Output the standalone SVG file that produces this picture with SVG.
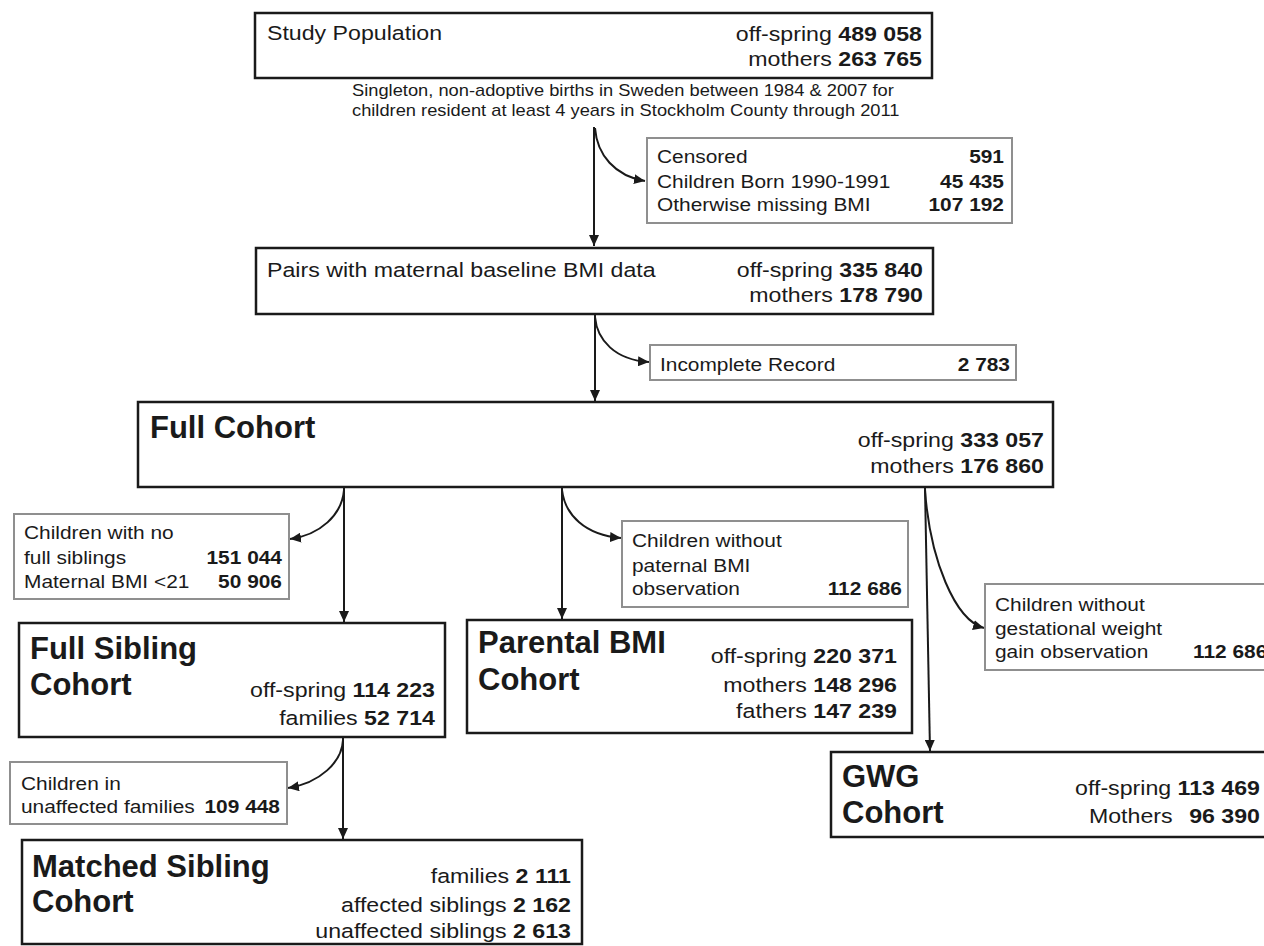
<svg xmlns="http://www.w3.org/2000/svg" width="1264" height="946" viewBox="0 0 1264 946">
<style>
text{font-family:"Liberation Sans",Arial,Helvetica,sans-serif;fill:#1a1a1a}
.box{fill:#fff;stroke:#1a1a1a;stroke-width:2.5}
.ex{fill:#fff;stroke:#8f8f8f;stroke-width:2}
.r{font-size:20.5px}
.x{font-size:18.5px}
.sub{font-size:16.2px}
.h{font-size:31px;font-weight:bold}
.b{font-weight:bold}
.s{transform-box:fill-box;transform-origin:0 0;transform:scaleX(1.13)}
.e{text-anchor:end;transform-box:fill-box;transform-origin:100% 0;transform:scaleX(1.13)}
.c{fill:none;stroke:#1a1a1a;stroke-width:2}
</style>
<defs>
<marker id="ah" markerUnits="userSpaceOnUse" markerWidth="12" markerHeight="10" refX="11" refY="5" orient="auto">
<path d="M0,0 L11,5 L0,10 z" fill="#1a1a1a"/>
</marker>
</defs>
<rect width="1264" height="946" fill="#fff"/>

<g id="connectors">
<path class="c" d="M594,127 L594,246" marker-end="url(#ah)"/>
<path class="c" d="M595,128 C597,155 615,176 645,181" marker-end="url(#ah)"/>
<path class="c" d="M595,315 L595,401" marker-end="url(#ah)"/>
<path class="c" d="M595,317 C597,340 615,360 649,362" marker-end="url(#ah)"/>
<path class="c" d="M344,488 L344,622" marker-end="url(#ah)"/>
<path class="c" d="M344,490 C342,515 320,535 290,539" marker-end="url(#ah)"/>
<path class="c" d="M562,488 L562,619" marker-end="url(#ah)"/>
<path class="c" d="M562,490 C565,515 585,535 621,538" marker-end="url(#ah)"/>
<path class="c" d="M925,488 L930,751" marker-end="url(#ah)"/>
<path class="c" d="M925,490 C930,560 955,620 984,628" marker-end="url(#ah)"/>
<path class="c" d="M343,738 L343,839" marker-end="url(#ah)"/>
<path class="c" d="M343,740 C342,762 320,783 288,788" marker-end="url(#ah)"/>
</g>

<g id="study-population">
<rect class="box" x="255" y="13" width="677" height="65"/>
<text class="r s" x="267" y="40">Study Population</text>
<text class="r e" x="922" y="41">off-spring <tspan class="b">489 058</tspan></text>
<text class="r e" x="922" y="66">mothers <tspan class="b">263 765</tspan></text>
<text class="sub s" x="352" y="96">Singleton, non-adoptive births in Sweden between 1984 &amp; 2007 for</text>
<text class="sub s" x="352" y="116">children resident at least 4 years in Stockholm County through 2011</text>
</g>

<g id="excl-1">
<rect class="ex" x="647" y="138" width="365" height="85"/>
<text class="x s" x="657" y="163">Censored</text>
<text class="x s" x="657" y="188">Children Born 1990-1991</text>
<text class="x s" x="657" y="211">Otherwise missing BMI</text>
<text class="x e b" x="1004" y="163">591</text>
<text class="x e b" x="1004" y="188">45 435</text>
<text class="x e b" x="1004" y="211">107 192</text>
</g>

<g id="pairs">
<rect class="box" x="256" y="248" width="677" height="66"/>
<text class="r s" x="267" y="277">Pairs with maternal baseline BMI data</text>
<text class="r e" x="923" y="277">off-spring <tspan class="b">335 840</tspan></text>
<text class="r e" x="923" y="302">mothers <tspan class="b">178 790</tspan></text>
</g>

<g id="excl-2">
<rect class="ex" x="650" y="345" width="366" height="35"/>
<text class="x s" x="660" y="371">Incomplete Record</text>
<text class="x e b" x="1010" y="371">2 783</text>
</g>

<g id="full-cohort">
<rect class="box" x="138" y="402" width="915" height="85"/>
<text class="h" x="150" y="438">Full Cohort</text>
<text class="r e" x="1044" y="447">off-spring <tspan class="b">333 057</tspan></text>
<text class="r e" x="1044" y="473">mothers <tspan class="b">176 860</tspan></text>
</g>

<g id="excl-3">
<rect class="ex" x="14" y="514" width="275" height="85"/>
<text class="x s" x="24" y="539">Children with no</text>
<text class="x s" x="24" y="564">full siblings</text>
<text class="x s" x="24" y="588">Maternal BMI &lt;21</text>
<text class="x e b" x="282" y="564">151 044</text>
<text class="x e b" x="282" y="588">50 906</text>
</g>

<g id="excl-4">
<rect class="ex" x="622" y="521" width="286" height="86"/>
<text class="x s" x="632" y="547">Children without</text>
<text class="x s" x="632" y="572">paternal BMI</text>
<text class="x s" x="632" y="595">observation</text>
<text class="x e b" x="902" y="595">112 686</text>
</g>

<g id="excl-5">
<rect class="ex" x="985" y="584" width="300" height="86"/>
<text class="x s" x="995" y="611">Children without</text>
<text class="x s" x="995" y="635">gestational weight</text>
<text class="x s" x="995" y="658">gain observation</text>
<text class="x s b" x="1193" y="658">112 686</text>
</g>

<g id="full-sibling">
<rect class="box" x="19" y="623" width="426" height="114"/>
<text class="h" x="30" y="659">Full Sibling</text>
<text class="h" x="30" y="695">Cohort</text>
<text class="r e" x="435" y="697">off-spring <tspan class="b">114 223</tspan></text>
<text class="r e" x="435" y="725">families <tspan class="b">52 714</tspan></text>
</g>

<g id="parental-bmi">
<rect class="box" x="467" y="620" width="445" height="113"/>
<text class="h" x="478" y="653">Parental BMI</text>
<text class="h" x="478" y="690">Cohort</text>
<text class="r e" x="897" y="663">off-spring <tspan class="b">220 371</tspan></text>
<text class="r e" x="897" y="692">mothers <tspan class="b">148 296</tspan></text>
<text class="r e" x="897" y="718">fathers <tspan class="b">147 239</tspan></text>
</g>

<g id="gwg">
<rect class="box" x="831" y="752" width="460" height="85"/>
<text class="h" x="842" y="787">GWG</text>
<text class="h" x="842" y="823">Cohort</text>
<text class="r e" x="1260" y="795">off-spring <tspan class="b">113 469</tspan></text>
<text class="r e" x="1260" y="823">Mothers <tspan class="b" dx="9">96 390</tspan></text>
</g>

<g id="excl-6">
<rect class="ex" x="10" y="762" width="277" height="62"/>
<text class="x s" x="21" y="790">Children in</text>
<text class="x s" x="21" y="813">unaffected families</text>
<text class="x e b" x="280" y="813">109 448</text>
</g>

<g id="matched-sibling">
<rect class="box" x="22" y="840" width="560" height="104"/>
<text class="h" x="32" y="877">Matched Sibling</text>
<text class="h" x="32" y="912">Cohort</text>
<text class="r e" x="571" y="883">families <tspan class="b">2 111</tspan></text>
<text class="r e" x="571" y="912">affected siblings <tspan class="b">2 162</tspan></text>
<text class="r e" x="571" y="938">unaffected siblings <tspan class="b">2 613</tspan></text>
</g>
</svg>
